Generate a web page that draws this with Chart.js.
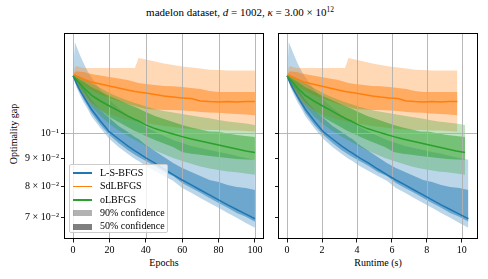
<!DOCTYPE html>
<html>
<head>
<meta charset="utf-8">
<script src="https://cdn.jsdelivr.net/npm/chart.js@4.4.1/dist/chart.umd.min.js"></script>
<style>
  html, body { margin: 0; padding: 0; background: #fff; }
  body { width: 488px; height: 279px; position: relative; overflow: hidden;
         font-family: 'Liberation Serif', 'DejaVu Serif', serif; color: #000; }
  canvas { position: absolute; top: 0; }
  #left { left: 0; }
  #right { left: 270px; }
  .lbl { position: absolute; font-size: 10px; line-height: 1; white-space: nowrap; }
  #title { left: 240px; top: 7px; font-size: 11px; transform: translateX(-50%); }
  #title sup { font-size: 7.5px; vertical-align: 4px; line-height: 0; }
  #ylabel { left: 14px; top: 134px; transform: translate(-50%, -50%) rotate(-90deg); }
  #xlabel1 { left: 164px; top: 258px; transform: translateX(-50%); }
  #xlabel2 { left: 378px; top: 258px; transform: translateX(-50%); }
  #legend { position: absolute; left: 69px; top: 164px; width: 99px; height: 69px;
            box-sizing: border-box; background: rgba(255,255,255,0.8);
            border: 1px solid #cccccc; border-radius: 2px; }
  .row { position: absolute; left: 0; height: 0; }
  .handle { position: absolute; left: 3px; width: 19px; }
  .row .txt { position: absolute; left: 30px; top: -5.5px; font-size: 10px; line-height: 1; white-space: nowrap; }
</style>
</head>
<body>
<div class="lbl" id="title">madelon dataset, <i>d</i> = 1002, <i>κ</i> = 3.00 × 10<sup>12</sup></div>
<div class="lbl" id="ylabel">Optimality gap</div>
<div class="lbl" id="xlabel1">Epochs</div>
<div class="lbl" id="xlabel2">Runtime (s)</div>
<canvas id="left" width="270" height="279"></canvas>
<canvas id="right" width="218" height="279"></canvas>
<div id="legend"></div>
<script>
// ---- data ----
const epochs = [0, 1, 2, 4, 6, 8, 10, 15, 20, 25, 30, 34, 36, 40, 45, 50, 55, 60, 65, 70, 75, 80, 85, 90, 95, 100];

// wall-clock seconds at the same samples (right panel)
const runtimeLSBFGS = [0, 0.10, 0.21, 0.42, 0.62, 0.83, 1.04, 1.56, 2.08, 2.60, 3.11, 3.53, 3.74, 4.15, 4.67, 5.19, 5.71, 6.23, 6.75, 7.27, 7.79, 8.30, 8.82, 9.34, 9.86, 10.38];
const runtimeSdLBFGS = [0, 0.10, 0.20, 0.39, 0.59, 0.78, 0.98, 1.46, 1.95, 2.44, 2.93, 3.32, 3.51, 3.90, 4.39, 4.88, 5.36, 5.85, 6.34, 6.83, 7.31, 7.80, 8.29, 8.78, 9.26, 9.75];
const runtimeOLBFGS = [0, 0.10, 0.20, 0.41, 0.61, 0.82, 1.02, 1.53, 2.04, 2.55, 3.06, 3.46, 3.67, 4.08, 4.59, 5.10, 5.60, 6.11, 6.62, 7.13, 7.64, 8.15, 8.66, 9.17, 9.68, 10.19];

const lsbfgsMedian = [0.1275, 0.1252, 0.1231, 0.1195, 0.1165, 0.1136, 0.1108, 0.1053, 0.1006, 0.0976, 0.0948, 0.0928, 0.0920, 0.0901, 0.0882, 0.0860, 0.0840, 0.0821, 0.0804, 0.0787, 0.0771, 0.0755, 0.0739, 0.0725, 0.0711, 0.0697];
const lsbfgsHi50 = [0.1275, 0.1268, 0.1257, 0.1231, 0.1211, 0.1178, 0.1151, 0.1103, 0.1067, 0.1031, 0.1006, 0.0984, 0.0976, 0.0952, 0.0928, 0.0905, 0.0882, 0.0864, 0.0849, 0.0835, 0.0821, 0.0814, 0.0804, 0.0797, 0.0794, 0.0787];
const lsbfgsLo50 = [0.1275, 0.1247, 0.1221, 0.1185, 0.1151, 0.1122, 0.1090, 0.1036, 0.0993, 0.0960, 0.0932, 0.0913, 0.0905, 0.0890, 0.0871, 0.0849, 0.0835, 0.0811, 0.0794, 0.0778, 0.0761, 0.0745, 0.0730, 0.0714, 0.0703, 0.0688];
const lsbfgsHi90 = [0.1275, 0.1470, 0.1439, 0.1385, 0.1339, 0.1300, 0.1268, 0.1200, 0.1151, 0.1113, 0.1080, 0.1058, 0.1049, 0.1027, 0.1006, 0.0989, 0.0972, 0.0960, 0.0948, 0.0940, 0.0932, 0.0924, 0.0917, 0.0909, 0.0901, 0.0894];
const lsbfgsLo90 = [0.1275, 0.1242, 0.1211, 0.1170, 0.1136, 0.1108, 0.1076, 0.1023, 0.0976, 0.0944, 0.0917, 0.0897, 0.0890, 0.0871, 0.0853, 0.0835, 0.0818, 0.0794, 0.0778, 0.0761, 0.0745, 0.0730, 0.0714, 0.0700, 0.0685, 0.0671];

const sdlbfgsMedian = [0.1275, 0.1279, 0.1273, 0.1265, 0.1257, 0.1249, 0.1242, 0.1231, 0.1221, 0.1211, 0.1200, 0.1193, 0.1190, 0.1185, 0.1178, 0.1170, 0.1165, 0.1161, 0.1158, 0.1146, 0.1143, 0.1141, 0.1143, 0.1141, 0.1143, 0.1143];
const sdlbfgsHi50 = [0.1275, 0.1295, 0.1300, 0.1297, 0.1295, 0.1289, 0.1284, 0.1276, 0.1268, 0.1260, 0.1252, 0.1242, 0.1236, 0.1231, 0.1226, 0.1221, 0.1219, 0.1216, 0.1211, 0.1205, 0.1195, 0.1190, 0.1190, 0.1190, 0.1190, 0.1190];
const sdlbfgsLo50 = [0.1275, 0.1263, 0.1252, 0.1236, 0.1221, 0.1211, 0.1200, 0.1178, 0.1161, 0.1146, 0.1132, 0.1122, 0.1117, 0.1108, 0.1106, 0.1103, 0.1103, 0.1101, 0.1099, 0.1094, 0.1092, 0.1090, 0.1087, 0.1085, 0.1083, 0.1079];
const sdlbfgsHi90 = [0.1275, 0.1322, 0.1328, 0.1322, 0.1317, 0.1317, 0.1317, 0.1317, 0.1317, 0.1317, 0.1317, 0.1317, 0.1374, 0.1365, 0.1354, 0.1342, 0.1334, 0.1325, 0.1320, 0.1314, 0.1308, 0.1306, 0.1304, 0.1304, 0.1304, 0.1304];
const sdlbfgsLo90 = [0.1275, 0.1242, 0.1221, 0.1190, 0.1165, 0.1146, 0.1132, 0.1103, 0.1085, 0.1071, 0.1060, 0.1053, 0.1049, 0.1044, 0.1038, 0.1031, 0.1027, 0.1023, 0.1018, 0.1016, 0.1014, 0.1014, 0.1012, 0.1012, 0.1010, 0.1008];

const olbfgsMedian = [0.1275, 0.1263, 0.1252, 0.1231, 0.1211, 0.1193, 0.1175, 0.1146, 0.1122, 0.1099, 0.1076, 0.1060, 0.1053, 0.1036, 0.1020, 0.1008, 0.0997, 0.0986, 0.0976, 0.0968, 0.0960, 0.0952, 0.0944, 0.0936, 0.0928, 0.0922];
const olbfgsHi50 = [0.1275, 0.1271, 0.1265, 0.1252, 0.1242, 0.1228, 0.1216, 0.1193, 0.1170, 0.1151, 0.1132, 0.1117, 0.1110, 0.1094, 0.1076, 0.1062, 0.1049, 0.1036, 0.1025, 0.1016, 0.1008, 0.1006, 0.0999, 0.0993, 0.0989, 0.0984];
const olbfgsLo50 = [0.1275, 0.1254, 0.1236, 0.1211, 0.1185, 0.1163, 0.1141, 0.1103, 0.1071, 0.1049, 0.1027, 0.1010, 0.1003, 0.0989, 0.0972, 0.0958, 0.0944, 0.0924, 0.0917, 0.0913, 0.0909, 0.0905, 0.0901, 0.0897, 0.0895, 0.0894];
const olbfgsHi90 = [0.1275, 0.1279, 0.1276, 0.1268, 0.1257, 0.1247, 0.1236, 0.1211, 0.1185, 0.1165, 0.1148, 0.1136, 0.1132, 0.1120, 0.1108, 0.1099, 0.1092, 0.1085, 0.1078, 0.1071, 0.1065, 0.1058, 0.1051, 0.1047, 0.1042, 0.1036];
const olbfgsLo90 = [0.1275, 0.1252, 0.1231, 0.1200, 0.1170, 0.1146, 0.1122, 0.1076, 0.1040, 0.1012, 0.0989, 0.0972, 0.0964, 0.0948, 0.0930, 0.0915, 0.0901, 0.0890, 0.0879, 0.0869, 0.0862, 0.0856, 0.0851, 0.0848, 0.0844, 0.0839];

const xTicksEpochs = [0, 20, 40, 60, 80, 100];
const xTicksRuntime = [0, 2, 4, 6, 8, 10];
const yTickValues = [0.07, 0.08, 0.09, 0.1];
const yTickLabels = ['7 × 10⁻²', '8 × 10⁻²', '9 × 10⁻²', '10⁻¹'];
const gridYValues = [0.1];

// ---- styling ----
const methods = [
  { name: 'L-S-BFGS', rgb: '31,119,180', median: lsbfgsMedian, lo50: lsbfgsLo50, hi50: lsbfgsHi50, lo90: lsbfgsLo90, hi90: lsbfgsHi90, runtime: runtimeLSBFGS },
  { name: 'SdLBFGS', rgb: '255,127,14', median: sdlbfgsMedian, lo50: sdlbfgsLo50, hi50: sdlbfgsHi50, lo90: sdlbfgsLo90, hi90: sdlbfgsHi90, runtime: runtimeSdLBFGS },
  { name: 'oLBFGS', rgb: '44,160,44', median: olbfgsMedian, lo50: olbfgsLo50, hi50: olbfgsHi50, lo90: olbfgsLo90, hi90: olbfgsHi90, runtime: runtimeOLBFGS }
];
const FONT = "'Liberation Serif', 'DejaVu Serif', serif";

function pts(xs, ys) {
  return xs.map((x, i) => ({ x: x, y: ys[i] }));
}

function bandPair(xs, lo, hi, rgb, alpha) {
  return [
    { data: pts(xs, lo), borderWidth: 0, borderColor: 'transparent', fill: '+1', backgroundColor: 'rgba(' + rgb + ',' + alpha + ')' },
    { data: pts(xs, hi), borderWidth: 0, borderColor: 'transparent', fill: false }
  ];
}

// Chart.js paints dataset 0 last: medians first (on top), then the bands
// with the last method's 50% band first and the first method's 90% band at the end
function buildDatasets(useRuntime) {
  const lines = [], bands = [];
  methods.forEach(m => {
    const xs = useRuntime ? m.runtime : epochs;
    lines.unshift({ data: pts(xs, m.median), borderColor: 'rgb(' + m.rgb + ')', borderWidth: 1.5, fill: false });
    bands.unshift(...bandPair(xs, m.lo50, m.hi50, m.rgb, 0.5), ...bandPair(xs, m.lo90, m.hi90, m.rgb, 0.3));
  });
  return lines.concat(bands);
}

// grid sits above the fills but under the median lines
const gridPlugin = {
  id: 'midGrid',
  beforeDatasetDraw(chart, args) {
    if (args.index !== methods.length - 1) return;
    const { ctx, chartArea: a, scales } = chart;
    ctx.save();
    ctx.beginPath();
    ctx.rect(a.left, a.top, a.right - a.left, a.bottom - a.top);
    ctx.clip();
    ctx.strokeStyle = '#b0b0b0';
    ctx.lineWidth = 0.9;
    chart.options.plugins.midGrid.xs.forEach(v => {
      const px = Math.round(scales.x.getPixelForValue(v)) + 0.5;
      ctx.beginPath(); ctx.moveTo(px, a.top); ctx.lineTo(px, a.bottom); ctx.stroke();
    });
    gridYValues.forEach(v => {
      const py = Math.round(scales.y.getPixelForValue(v)) + 0.5;
      ctx.beginPath(); ctx.moveTo(a.left, py); ctx.lineTo(a.right, py); ctx.stroke();
    });
    ctx.restore();
  }
};

const framePlugin = {
  id: 'frame',
  afterDraw(chart) {
    const { ctx, chartArea: a } = chart;
    ctx.save();
    ctx.strokeStyle = '#000';
    ctx.lineWidth = 1;
    ctx.strokeRect(a.left + 0.5, a.top + 0.5, a.right - a.left - 1, a.bottom - a.top - 1);
    ctx.restore();
  }
};

function makeChart(id, useRuntime, xMin, xMax, xTicks, yAxisWidth, padRight, showYLabels) {
  return new Chart(document.getElementById(id), {
    type: 'line',
    data: { datasets: buildDatasets(useRuntime) },
    plugins: [gridPlugin, framePlugin],
    options: {
      responsive: false,
      animation: false,
      devicePixelRatio: 1,
      layout: { padding: { top: 33, right: padRight, left: 0, bottom: 0 } },
      elements: { point: { radius: 0 }, line: { tension: 0 } },
      plugins: { legend: { display: false }, tooltip: { enabled: false }, midGrid: { xs: xTicks } },
      scales: {
        x: {
          type: 'linear', min: xMin, max: xMax,
          afterBuildTicks: s => { s.ticks = xTicks.map(v => ({ value: v })); },
          afterFit: s => { s.height = 40; s.paddingLeft = 0; s.paddingRight = 0; },
          grid: { drawOnChartArea: false, drawTicks: true, tickLength: 3.5, tickColor: '#000', tickWidth: 0.9 },
          border: { display: false },
          ticks: { color: '#000', font: { family: FONT, size: 10 }, padding: 2, maxRotation: 0, autoSkip: false }
        },
        y: {
          type: 'logarithmic', min: 0.0640, max: 0.1527,
          afterBuildTicks: s => { s.ticks = yTickValues.map(v => ({ value: v })); },
          afterFit: s => { s.width = yAxisWidth; },
          grid: { drawOnChartArea: false, drawTicks: true, tickLength: 3, tickColor: '#000', tickWidth: 0.9 },
          border: { display: false },
          ticks: {
            color: '#000', font: { family: FONT, size: 10 }, padding: 2, autoSkip: false,
            callback: v => showYLabels ? (yTickLabels[yTickValues.indexOf(v)] || '') : ''
          }
        }
      }
    }
  });
}

makeChart('left', false, -5, 105, xTicksEpochs, 64, 6, true);
makeChart('right', true, -0.52, 10.93, xTicksRuntime, 8, 10, false);

// legend (inside left panel)
const legend = document.getElementById('legend');
const rowTops = [8, 21.5, 35, 48.4, 61.8];
const entries = methods.map(m => ({ label: m.name, kind: 'line', color: 'rgb(' + m.rgb + ')' }))
  .concat([{ label: '90% confidence', kind: 'patch', color: 'rgba(0,0,0,0.3)' },
           { label: '50% confidence', kind: 'patch', color: 'rgba(0,0,0,0.5)' }]);
entries.forEach((e, i) => {
  const row = document.createElement('div');
  row.className = 'row';
  row.style.top = rowTops[i] + 'px';
  const h = document.createElement('div');
  h.className = 'handle';
  if (e.kind === 'line') { h.style.top = '-0.75px'; h.style.height = '1.5px'; }
  else { h.style.top = '-3px'; h.style.height = '6px'; }
  h.style.background = e.color;
  const t = document.createElement('div');
  t.className = 'txt';
  t.textContent = e.label;
  row.appendChild(h);
  row.appendChild(t);
  legend.appendChild(row);
});
</script>
</body>
</html>
